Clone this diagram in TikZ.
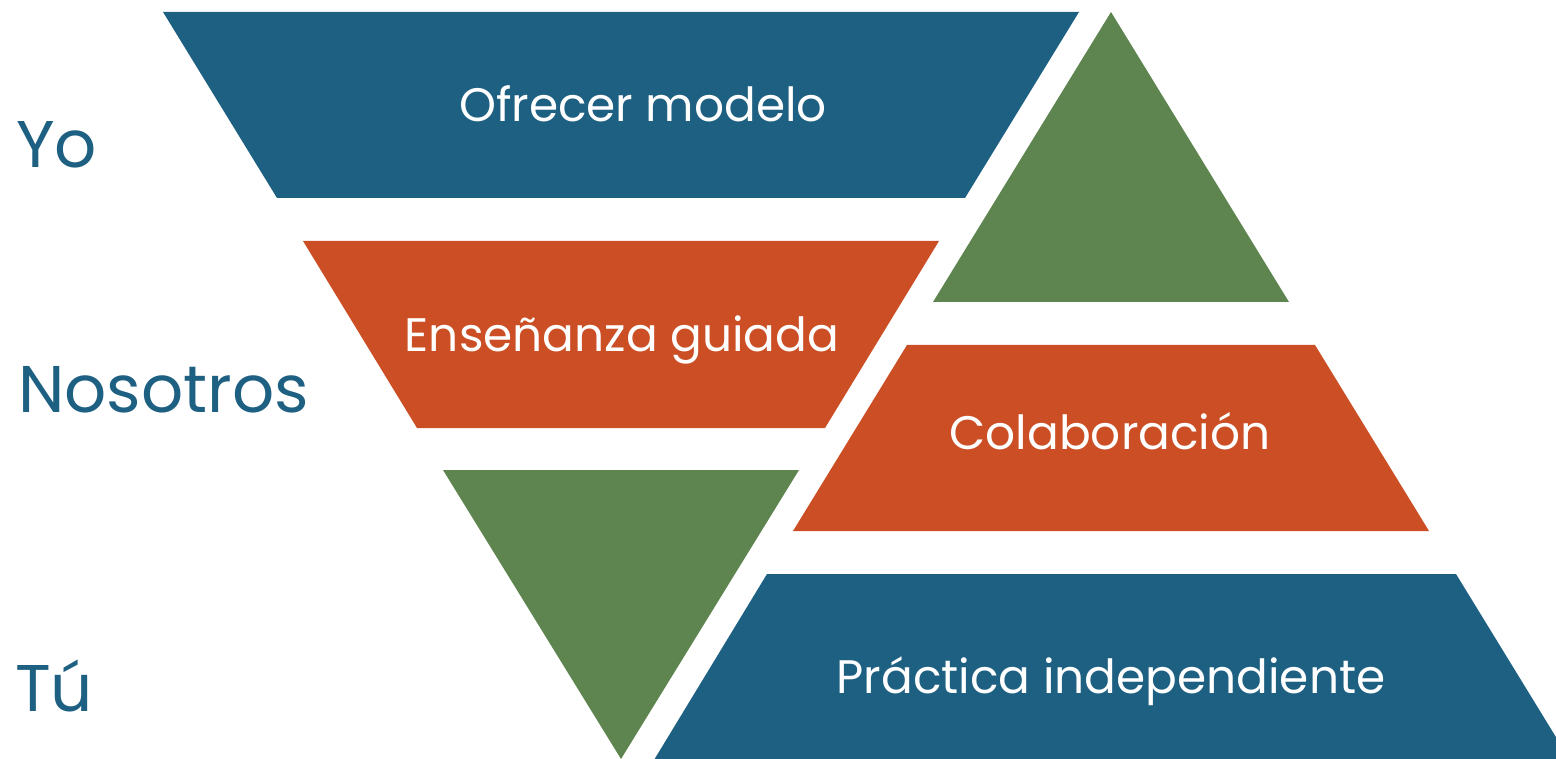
\documentclass[tikz,border=0pt]{standalone}
\usepackage{fontspec}
\setmainfont{Poppins}
\usepackage{tikz}
\usetikzlibrary{positioning}

\definecolor{yoblue}{HTML}{1E6082}
\definecolor{weorange}{HTML}{CB4E24}
\definecolor{tugreen}{HTML}{5E8550}

\begin{document}
\begin{tikzpicture}[x=1pt, y=-1pt,
    stagetext/.style={text=white, anchor=base, inner sep=0pt, font=\fontsize{47}{55}\selectfont},
    whotext/.style={text=yoblue, anchor=base west, inner sep=0pt, font=\fontsize{66}{76}\selectfont}]

    %% Background
    \useasboundingbox (0,0) rectangle (1556,759);
    \clip (0,0) rectangle (1556,759);

    % Yo
    \fill[yoblue] (163,12) -- (1079,12) -- (965,198) -- (277,198) -- cycle;
    \fill[tugreen] (1111,12) -- (1289,302) -- (933,302) -- cycle;

    % Nosotros
    \fill[weorange] (303,241) -- (939,241) -- (825,428) -- (417,428) -- cycle;
    \fill[weorange] (907,345) -- (1315,345) -- (1429,531) -- (793,531) -- cycle;

    % Tu
    \fill[tugreen] (443,470) -- (799,470) -- (621,759) -- cycle;
    \fill[yoblue] (767,574) -- (1456,574) -- (1570,760) -- (654,760) -- cycle;

    % Labels
    \node[stagetext] (modelo) at (643,122) {Ofrecer modelo};
    \node[stagetext] (guiada) at (622,352) {Enseñanza guiada};
    \node[stagetext] (colab) at (1110,449) {Colaboración};
    \node[stagetext] (practica) at (1111,693) {Práctica independiente};

    \node[whotext] (yo) at (16,168) {Yo};
    \node[whotext] (nosotros) at (18,412) {Nosotros};
    \node[whotext] (tu) at (15,711) {Tú};

\end{tikzpicture}
\end{document}
